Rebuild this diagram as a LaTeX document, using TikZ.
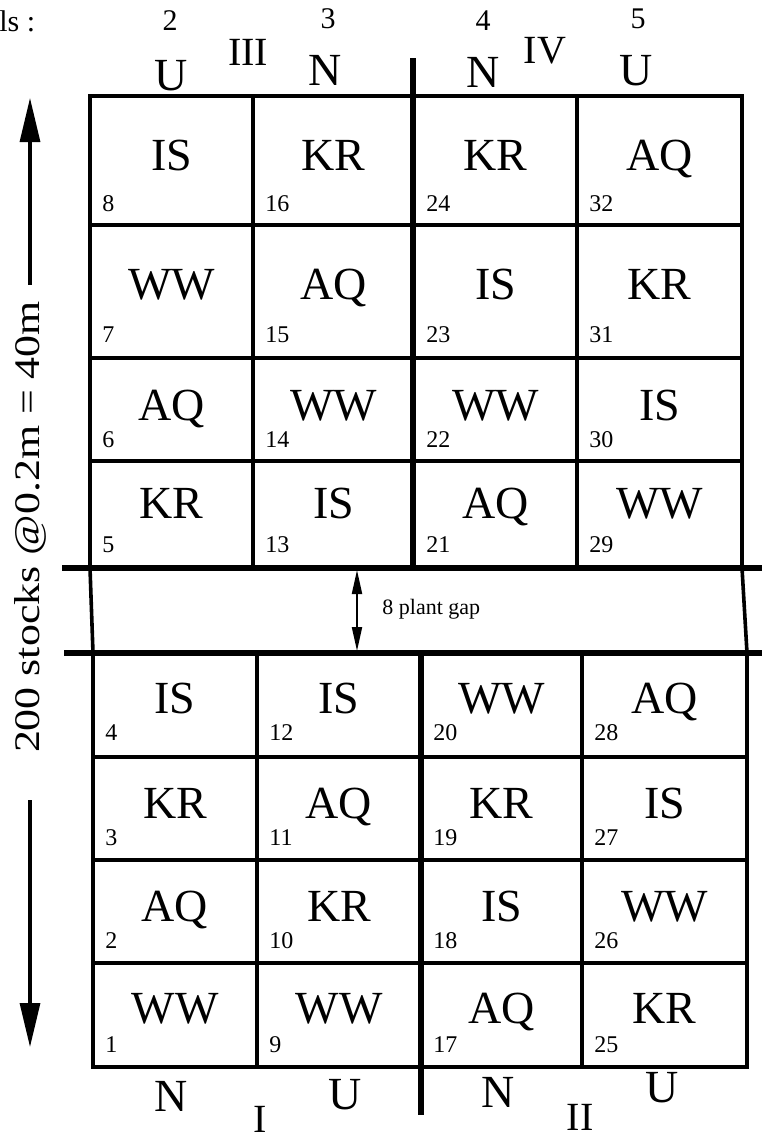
\documentclass[tikz,border=0pt]{standalone}
\usepackage{fontspec}
\setmainfont{Liberation Serif}
\usetikzlibrary{arrows.meta}

\tikzset{
  plotline/.style={line width=1.8pt},
  blockline/.style={line width=2.8pt},
  crop/.style={font=\fontsize{23}{23}\selectfont, anchor=base, inner sep=0pt},
  plotno/.style={font=\fontsize{12}{12}\selectfont, anchor=base west, inner sep=0pt},
  colno/.style={font=\fontsize{15}{15}\selectfont, anchor=base, inner sep=0pt},
  treat/.style={font=\fontsize{23}{23}\selectfont, anchor=base, inner sep=0pt},
  blockno/.style={font=\fontsize{20}{20}\selectfont, anchor=base, inner sep=0pt}
}

\begin{document}
\begin{tikzpicture}[x=0.5pt,y=-0.5pt]
  \useasboundingbox (0,0) rectangle (762,1140);

  % upper half: plots 5-8, 13-16, 21-24, 29-32
  \foreach \x/\xx/\cA/\cB/\cC/\cD [count=\c from 0] in
      {90/253/IS/WW/AQ/KR, 253/414/KR/AQ/WW/IS, 414/577/KR/IS/WW/AQ, 577/742/AQ/KR/IS/WW}
  {
    \foreach \y/\yy/\cb/\nb/\crop [count=\r] in
        {96/225/170/211/\cA, 225/358/299/342/\cB, 358/461/420/447/\cC, 461/568/518/552/\cD}
    {
      \pgfmathtruncatemacro\n{\c*8+9-\r}
      \draw[plotline] (\x,\y) rectangle (\xx,\yy);
      \node[crop] (crop-\n) at ({(\x+\xx)/2},\cb) {\crop};
      \node[plotno] (no-\n) at (\x+12,\nb) {\n};
    }
  }

  % lower half: plots 1-4, 9-12, 17-20, 25-28
  \foreach \x/\xx/\cA/\cB/\cC/\cD [count=\c from 0] in
      {93/257/IS/KR/AQ/WW, 257/421/IS/AQ/KR/WW, 421/582/WW/KR/IS/AQ, 582/747/AQ/IS/WW/KR}
  {
    \foreach \y/\yy/\cb/\nb/\crop [count=\r] in
        {653/757/713/740/\cA, 757/860/818/845/\cB, 860/963/921/948/\cC, 963/1067/1023/1052/\cD}
    {
      \pgfmathtruncatemacro\n{\c*8+5-\r}
      \draw[plotline] (\x,\y) rectangle (\xx,\yy);
      \node[crop] (crop-\n) at ({(\x+\xx)/2},\cb) {\crop};
      \node[plotno] (no-\n) at (\x+12,\nb) {\n};
    }
  }

  % gap between the halves
  \draw[plotline] (90,568) -- (93,653);
  \draw[plotline] (742,568) -- (747,653);
  \draw[blockline] (62,568) -- (762,568);
  \draw[blockline] (64,653) -- (762,653);
  \draw[blockline] (413,58) -- (413,568);
  \draw[blockline] (421,653) -- (421,1115);

  \coordinate (gaptop) at (357,570);
  \coordinate (gapbot) at (357,651);
  \draw[line width=1pt, {Triangle[length=12pt,width=5pt]}-{Triangle[length=12pt,width=5pt]}] (gaptop) -- (gapbot);
  \node[font=\fontsize{11}{11}\selectfont, anchor=base west, inner sep=0pt] (gaplabel) at (382,614) {8 plant gap};

  % length of the rows
  \node[font=\fontsize{18}{18}\selectfont, rotate=90, xscale=1.22, inner sep=0pt] (span) at (30,527) {200 stocks @0.2m = 40m};
  \coordinate (toptip) at (30,98);
  \coordinate (botstart) at (30,800);
  \coordinate (bottip) at (30,1047);
  \draw[line width=1.6pt, -{Triangle[length=22pt,width=10pt]}] ([yshift=8pt]span.east) -- (toptip);
  \draw[line width=1.6pt, -{Triangle[length=22pt,width=10pt]}] (botstart) -- (bottip);

  % columns and blocks
  \node[font=\fontsize{15}{15}\selectfont, anchor=base west, inner sep=0pt] (lvl) at (-1,32) {ls :};
  \node[colno] (col2) at (170,30) {2};
  \node[colno] (col3) at (328,28) {3};
  \node[colno] (col4) at (483,30) {4};
  \node[colno] (col5) at (638,28) {5};
  \node[treat] (t2) at (171,90) {U};
  \node[treat] (t3) at (325,85) {N};
  \node[treat] (t4) at (483,87) {N};
  \node[treat] (t5) at (636,85) {U};
  \node[blockno] (b3) at (248,65) {III};
  \node[blockno] (b4) at (545,63) {IV};

  \node[treat] (t1) at (171,1111) {N};
  \node[treat] (t6) at (345,1109) {U};
  \node[treat] (t7) at (498,1107) {N};
  \node[treat] (t8) at (662,1102) {U};
  \node[blockno] (b1) at (260,1132) {I};
  \node[blockno] (b2) at (580,1130) {II};
\end{tikzpicture}
\end{document}
